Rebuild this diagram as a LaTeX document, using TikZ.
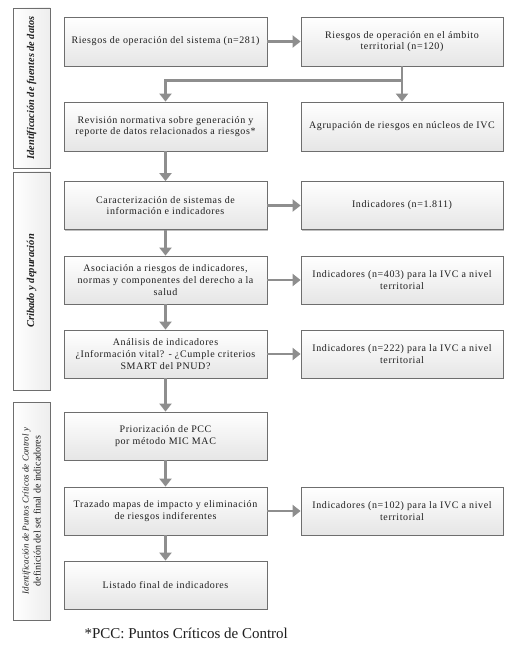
\documentclass[tikz,border=0pt]{standalone}
\usepackage{fontspec}
\setmainfont{Liberation Serif}
\newfontfamily\boxfont{Liberation Serif}[LetterSpace=6]
\usetikzlibrary{arrows.meta,shadows}
\definecolor{boxline}{HTML}{6E6E6E}
\definecolor{arrgray}{HTML}{8E8E8E}
\definecolor{txt}{HTML}{1E1E1E}
\tikzset{
  x=1pt,y=-1pt,
  flowbox/.style={draw=boxline, line width=0.8pt, top color=white, bottom color=black!10,
    minimum height=48pt, align=center, inner sep=2pt, text=txt,
    font=\boxfont\fontsize{10}{11.6}\selectfont,
    drop shadow={shadow xshift=1pt, shadow yshift=-1pt, opacity=0.25, fill=black}},
  lbox/.style={flowbox, minimum width=203pt},
  rbox/.style={flowbox, minimum width=202pt},
  sidebox/.style={draw=boxline, line width=0.8pt, left color=white, right color=black!7,
    rotate=90, minimum height=37pt, align=center, inner sep=1pt, text=txt,
    drop shadow={shadow xshift=1pt, shadow yshift=-1pt, opacity=0.25, fill=black}},
  arr/.style={draw=arrgray, line width=2.6pt, -{Triangle[width=12pt,length=8pt]}},
}
\begin{document}
\begin{tikzpicture}
\useasboundingbox (0,0) rectangle (515,652);
\fill[white] (0,0) rectangle (515,652);

% side labels
\node[sidebox, minimum width=160pt] (s1) at (31.5,88)
  {\fontsize{10.3}{11}\selectfont\bfseries\itshape Identificación de fuentes de datos};
\node[sidebox, minimum width=218pt] (s2) at (31.5,281)
  {\fontsize{10.5}{11}\selectfont\bfseries\itshape Cribado y depuración};
\node[sidebox, minimum width=218pt] (s3) at (31.5,511)
  {\fontsize{9}{10}\selectfont\itshape Identificación de Puntos Críticos de Control y\\definición del set final de indicadores};

% left column
\node[lbox, minimum height=49pt] (l1) at (165.5,41.5) {Riesgos de operación del sistema (n=281)};
\node[lbox, minimum height=49pt] (l2) at (165.5,126.5) {Revisión normativa sobre generación y\\reporte de datos relacionados a riesgos*};
\node[lbox] (l3) at (165.5,205.5) {Caracterización de sistemas de\\información e indicadores};
\node[lbox] (l4) at (165.5,280) {Asociación a riesgos de  indicadores,\\normas y componentes del derecho a la\\salud};
\node[lbox] (l5) at (165.5,354) {Análisis de indicadores\\¿Información vital? - ¿Cumple criterios\\SMART del PNUD?};
\node[lbox] (l6) at (165.5,436) {Priorización de PCC\\por método MIC MAC};
\node[lbox] (l7) at (165.5,511) {Trazado mapas de impacto y eliminación\\de riesgos indiferentes};
\node[lbox] (l8) at (165.5,585) {Listado final de indicadores};

% right column
\node[rbox, minimum height=49pt] (r1) at (402,41.5) {Riesgos de operación en el ámbito\\territorial (n=120)};
\node[rbox, minimum height=49pt] (r2) at (402,126.5) {Agrupación de riesgos en núcleos de IVC};
\node[rbox] (r3) at (402,205.5) {Indicadores (n=1.811)};
\node[rbox] (r4) at (402,280) {Indicadores (n=403) para la IVC a nivel\\territorial};
\node[rbox] (r5) at (402,354) {Indicadores (n=222) para la IVC a nivel\\territorial};
\node[rbox] (r7) at (402,511) {Indicadores (n=102) para la IVC a nivel\\territorial};

% connectors
\draw[arr] (l1) -- (r1);
\draw[arr] (r1.south) -- (r2.north);
\draw[arr] (r1.south) -- ++(0,14) -| (l2.north);
\draw[arr] (l2) -- (l3);
\draw[arr] (l3) -- (l4);
\draw[arr] (l4) -- (l5);
\draw[arr] (l5) -- (l6);
\draw[arr] (l6) -- (l7);
\draw[arr] (l7) -- (l8);
\draw[arr] (l3) -- (r3);
\draw[arr] (l4) -- (r4);
\draw[arr] (l5) -- (r5);
\draw[arr] (l7) -- (r7);

% footnote
\node[text=txt, font=\fontsize{15}{17}\selectfont, anchor=base west] (fn) at (81,638) {*PCC: Puntos Críticos de Control};
\end{tikzpicture}
\end{document}
